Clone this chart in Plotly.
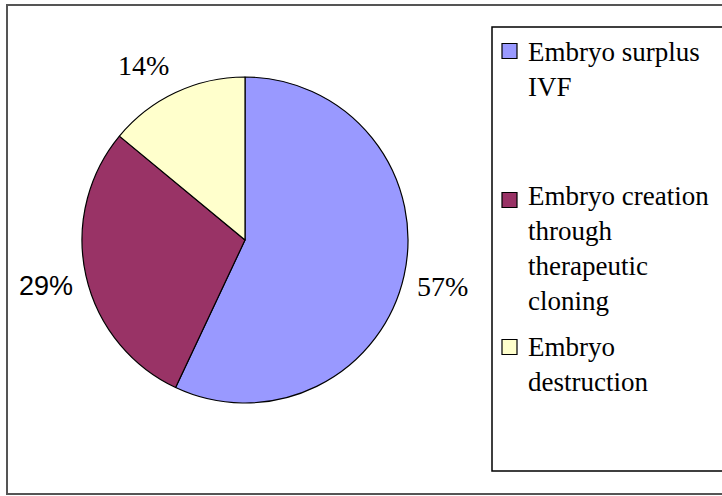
import math
import plotly.graph_objects as go

W, H = 722, 496

categories = ["Embryo surplus IVF",
              "Embryo creation through therapeutic cloning",
              "Embryo destruction"]
values = [57, 29, 14]
legend_text = ["Embryo surplus<br>IVF",
               "Embryo creation<br>through<br>therapeutic<br>cloning",
               "Embryo<br>destruction"]
colors = ["#9999FF", "#993366", "#FFFFCC"]
label_fonts = ["Liberation Serif", "Liberation Sans Narrow, Arial Narrow, Liberation Sans", "Liberation Serif"]
label_sizes = [28, 27, 28]

def px(x):
    return x / W

def py(y):
    return 1 - y / H

# pie geometry (pixels)
CX, CY, R = 245, 240, 163

fig = go.Figure()
fig.add_trace(go.Pie(
    labels=categories,
    values=values,
    sort=False,
    direction="clockwise",
    rotation=0,
    marker=dict(colors=colors, line=dict(color="black", width=1.2)),
    textinfo="none",
    domain=dict(x=[px(CX - R), px(CX + R)], y=[py(CY + R), py(CY - R)]),
    showlegend=False,
    hoverinfo="label+percent",
))

annotations = []
total = sum(values)
cum = 0
RL = 174
for v, fam, sz in zip(values, label_fonts, label_sizes):
    mid = (cum + v / 2) / total * 2 * math.pi
    cum += v
    dx, dy = math.sin(mid), -math.cos(mid)  # screen direction, y down
    x = CX + RL * dx
    y = CY + RL * dy
    below = dy > 0
    annotations.append(dict(
        xref="paper", yref="paper", x=px(x), y=py(y),
        xanchor="left" if dx > 0 else "right",
        yanchor="top" if below else "bottom",
        yshift=9 if below else 0,
        text=f"{round(100 * v / total)}%", showarrow=False,
        font=dict(family=fam, size=sz, color="black")))

shapes = [
    dict(type="rect", xref="paper", yref="paper",
         x0=px(7), x1=px(730), y0=py(494), y1=py(5),
         line=dict(color="#555555", width=2)),
    dict(type="rect", xref="paper", yref="paper",
         x0=px(492), x1=px(730), y0=py(471), y1=py(27),
         line=dict(color="black", width=1.5)),
]
entry_tops = [34.5, 179.5, 329.5]
marker_centers = [51, 200, 347]
for txt, col, top, mc in zip(legend_text, colors, entry_tops, marker_centers):
    shapes.append(dict(type="rect", xref="paper", yref="paper",
                       x0=px(502), x1=px(517), y0=py(mc + 7.5), y1=py(mc - 7.5),
                       fillcolor=col, line=dict(color="black", width=1.2)))
    annotations.append(dict(xref="paper", yref="paper", x=px(526), y=py(top),
                            xanchor="left", yanchor="top", align="left",
                            text=txt, showarrow=False,
                            font=dict(family="Liberation Serif", size=27, color="black")))

fig.update_layout(
    width=W, height=H,
    margin=dict(l=0, r=0, t=0, b=0),
    paper_bgcolor="white",
    plot_bgcolor="white",
    shapes=shapes,
    annotations=annotations,
)

fig.write_html("out.html", config={"displayModeBar": False},
               post_script="document.body.style.margin='0';")
